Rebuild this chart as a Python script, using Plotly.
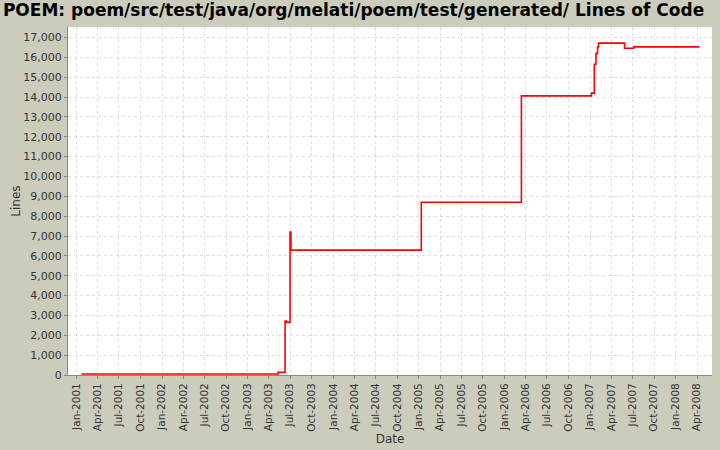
import plotly.graph_objects as go

dates = ["2001-01-22", "2003-05-11", "2003-06-10", "2003-06-16", "2003-07-01",
         "2003-07-05", "2005-01-11", "2006-03-14", "2007-01-07", "2007-01-19",
         "2007-01-26", "2007-02-02", "2007-02-06", "2007-05-28", "2007-07-06",
         "2008-04-12"]
lines = [50, 130, 2720, 2650, 7200, 6290, 8700, 14060, 14200, 15650,
         16200, 16520, 16720, 16460, 16530, 16530]

title_text = "POEM: poem/src/test/java/org/melati/poem/test/generated/ Lines of Code"
bg = "rgb(204,204,188)"
font_family = "DejaVu Sans"

fig = go.Figure()
fig.add_trace(go.Scatter(x=dates, y=lines, mode="lines",
                         line=dict(color="red", width=1.6, shape="hv"),
                         showlegend=False, hoverinfo="x+y"))

fig.update_layout(
    width=720, height=450,
    paper_bgcolor=bg, plot_bgcolor="white",
    margin=dict(l=68, r=8, t=27, b=75, autoexpand=False),
    font=dict(family=font_family, size=11, color="#333333"),
    title=dict(text="<b>" + title_text + "</b>", x=0.004, xanchor="left",
               y=0.992, yanchor="top",
               font=dict(family=font_family, size=17, color="black")),
    xaxis=dict(
        type="date", range=["2000-11-26", "2008-06-04"], automargin=False,
        tick0="2001-01-01", dtick="M3", tickformat="%b-%Y", tickangle=-90,
        showgrid=True, gridcolor="#dcdcdc", griddash="3px,3px", gridwidth=1,
        showline=True, linecolor="#888888", linewidth=1,
        ticks="outside", ticklen=3, tickcolor="#888888",
        tickfont=dict(size=10.5, color="#333333"),
        title=dict(text="Date", font=dict(size=12, color="#333333"), standoff=0),
        zeroline=False, mirror=False,
    ),
    yaxis=dict(
        range=[0, 17530], tick0=0, dtick=1000, tickformat=",d", automargin=False,
        showgrid=True, gridcolor="#dcdcdc", griddash="3px,3px", gridwidth=1,
        showline=True, linecolor="#888888", linewidth=1,
        ticks="outside", ticklen=3, tickcolor="#888888",
        tickfont=dict(size=11, color="#333333"),
        title=dict(text="Lines", font=dict(size=12, color="#333333"), standoff=0),
        zeroline=False,
    ),
)

fig.write_html("out.html", config={"displayModeBar": False},
               post_script="document.body.style.margin='0';document.body.style.padding='0';")
